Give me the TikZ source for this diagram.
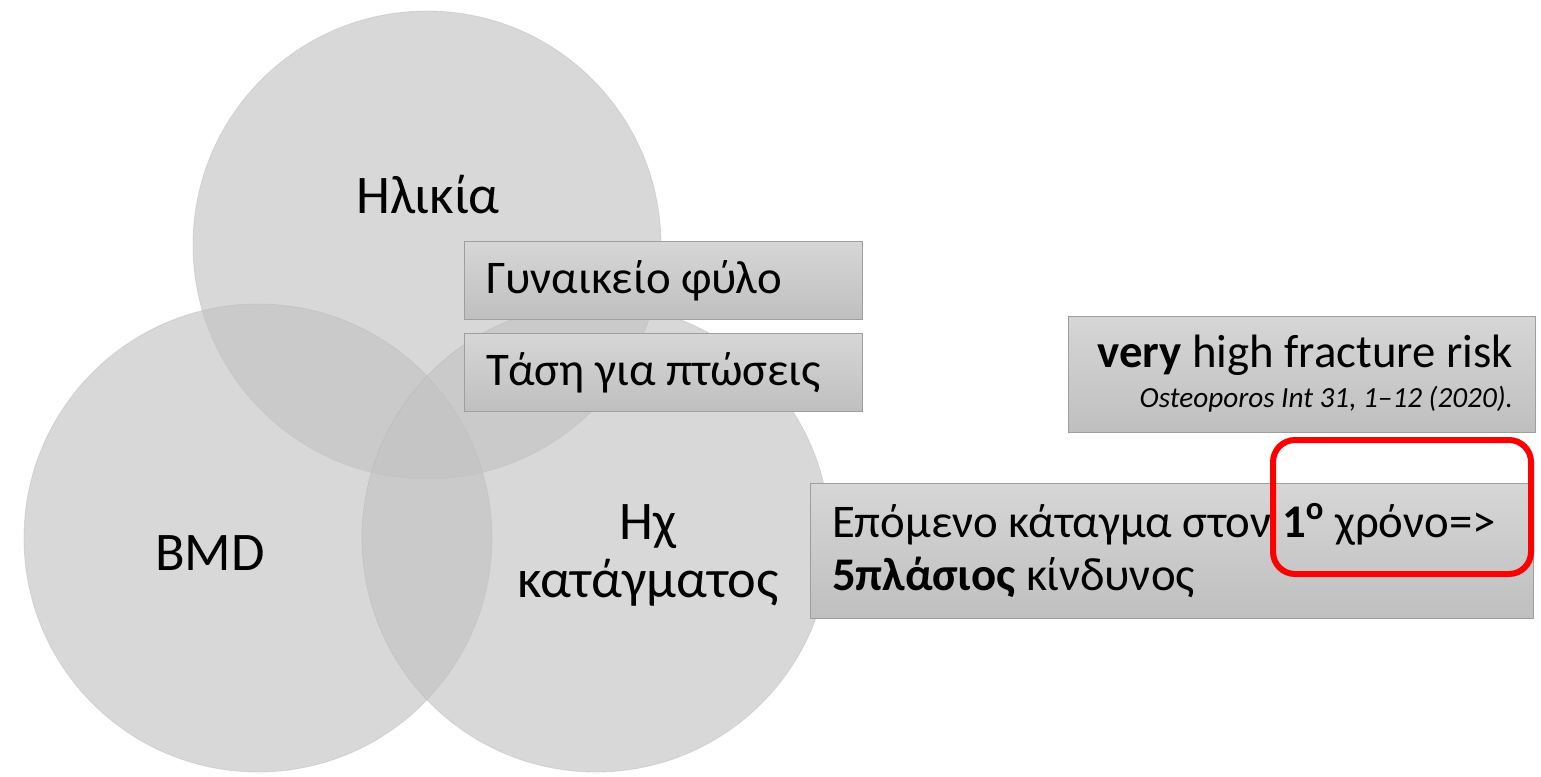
\documentclass[tikz,border=0pt]{standalone}
\usepackage{fontspec}
\setmainfont{Carlito}
\usepackage{tikz}
\usetikzlibrary{positioning}
\tikzset{venn node/.style={circle,fill=black!24,fill opacity=0.63,draw=black!30,draw opacity=0.4,line width=0.4pt,minimum size=234pt,inner sep=0pt},venn label/.style={font=\fontsize{27.2}{29}\selectfont,align=center},fact node/.style={rectangle,draw=black!38,top color=black!16,bottom color=black!25,inner xsep=11pt,inner ysep=0pt,font=\fontsize{23.4}{26.5}\selectfont},frame node/.style={rectangle,draw=red,line width=3pt,rounded corners=11pt,inner sep=0pt}}

\begin{document}
\begin{tikzpicture}[x=0.5pt,y=-0.5pt]
    \useasboundingbox (0,0) rectangle (1541,776);
    \node[venn node] (c1) at (427,245) {};
    \node[venn node] (c2) at (258,538) {};
    \node[venn node] (c3) at (596,538) {};
    \node[venn label] (l1) at (428,195) {Ηλικία};
    \node[venn label] (l2) at (210,553) {BMD};
    \node[venn label] (l3) at (648,555) {Ηχ\\κατάγματος};
    \node[fact node, text width=177pt, minimum height=39pt, align=flush left] (b1) at (663,280.5) {Γυναικείο φύλο};
    \node[fact node, text width=177pt, minimum height=39pt, align=flush left] (b2) [below = 6.5pt of b1] {Τάση για πτώσεις};
    \node[fact node, text width=211.5pt, minimum height=58pt, align=flush right, font=\fontsize{23.4}{20}\selectfont] (b3) at (1301.5,374) {\textbf{very} high fracture risk\\{\fontsize{14.6}{20}\selectfont\itshape Osteoporos Int 31, 1–12 (2020).}};
    \node[fact node, text width=339.5pt, minimum height=67.5pt, align=flush left] (b4) at (1171.5,550.5) {Επόμενο κάταγμα στον \textbf{1\textsuperscript{ο}} χρόνο=>\\\textbf{5πλάσιος} κίνδυνος};
    \node[frame node, minimum width=129pt, minimum height=67pt] (f1) at (1402,507) {};
  \end{tikzpicture}
\end{document}
